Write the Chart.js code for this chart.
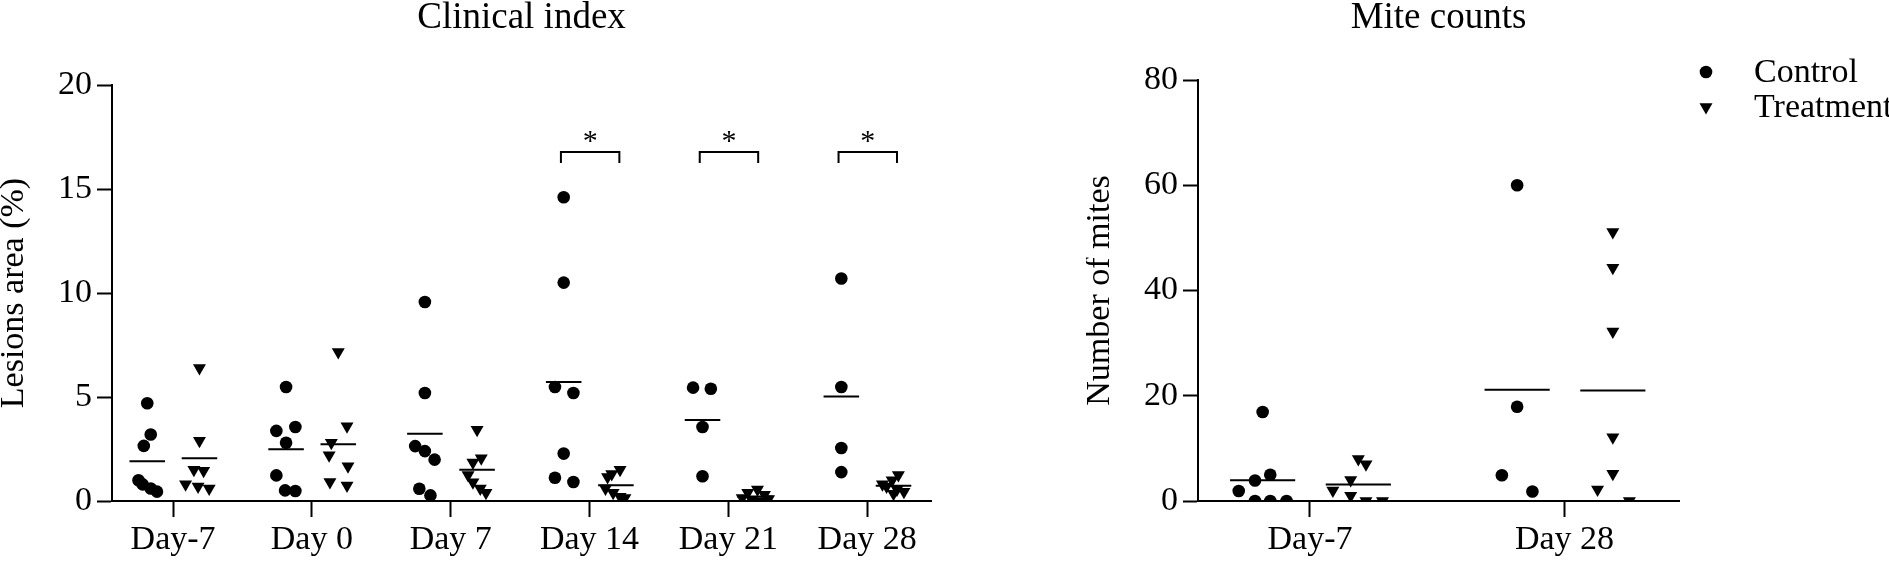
<!DOCTYPE html>
<html>
<head>
<meta charset="utf-8">
<title>Clinical index and mite counts</title>
<script src="https://cdn.jsdelivr.net/npm/chart.js@4.4.0/dist/chart.umd.min.js"></script>
<style>
  html, body { margin: 0; padding: 0; background: #fff; }
  #wrap { position: relative; width: 1889px; height: 562px; overflow: hidden; }
  .panel { position: absolute; top: 0; height: 562px; }
  #left { left: 0; width: 960px; }
  #right { left: 1086px; width: 803px; }
</style>
</head>
<body>
<div id="wrap">
  <div class="panel" id="left"><canvas id="clinicalChart" width="960" height="562"></canvas></div>
  <div class="panel" id="right"><canvas id="mitesChart" width="803" height="562"></canvas></div>
</div>
<script>
  // ---- data ----
  const clinicalDays = ['Day-7', 'Day 0', 'Day 7', 'Day 14', 'Day 21', 'Day 28'];
  const clinicalTicks = [0, 5, 10, 15, 20];
  const clinicalSignificant = ['Day 14', 'Day 21', 'Day 28'];

  const clinicalControl = [
    [4.7, 3.2, 2.65, 1.0, 0.8, 0.6, 0.45],
    [5.48, 3.37, 3.56, 2.8, 1.23, 0.51, 0.48],
    [9.57, 5.19, 2.64, 2.4, 1.99, 0.59, 0.27],
    [14.6, 10.5, 5.48, 5.19, 2.28, 1.12, 0.91],
    [5.45, 5.4, 3.56, 1.19],
    [10.7, 5.48, 2.55, 1.39]
  ];
  const clinicalTreatment = [
    [6.4, 2.9, 1.5, 1.45, 0.8, 0.7, 0.6],
    [7.16, 3.59, 2.8, 2.2, 1.67, 0.91, 0.75],
    [3.43, 2.05, 1.85, 1.25, 0.9, 0.6, 0.4],
    [1.5, 1.3, 1.15, 0.6, 0.4, 0.2, 0.15],
    [0.55, 0.4, 0.3, 0.15, 0.1, 0.05, 0.0],
    [1.25, 1.0, 0.8, 0.7, 0.55, 0.45, 0.35]
  ];
  // horizontal scatter of the dots inside each column (category units)
  const clinicalControlJitter = [
    [0, 0.025, -0.025, -0.063, -0.033, 0.025, 0.07],
    [0, -0.07, 0.067, 0, -0.07, -0.007, 0.067],
    [0, 0, -0.07, 0, 0.07, -0.04, 0.04],
    [0, 0, -0.063, 0.07, 0, -0.063, 0.07],
    [-0.068, 0.06, 0, 0],
    [0, 0, 0, 0]
  ];
  const clinicalTreatmentJitter = [
    [0, 0, -0.04, 0.03, -0.1, -0.01, 0.07],
    [0, 0.063, -0.05, -0.066, 0.07, -0.06, 0.063],
    [0, 0.03, -0.03, -0.065, -0.03, 0.023, 0.064],
    [0.03, -0.03, -0.06, -0.075, -0.02, 0.03, 0.065],
    [0.02, -0.05, 0.07, -0.09, 0.1, -0.02, 0.04],
    [0.035, -0.01, -0.08, -0.05, 0.025, 0.075, 0.0]
  ];

  const mitesDays = ['Day-7', 'Day 28'];
  const mitesTicks = [0, 20, 40, 60, 80];
  const mitesControl = [
    [16.9, 5.0, 3.9, 1.9, 0, 0, 0],
    [60, 17.9, 4.9, 1.8]
  ];
  const mitesTreatment = [
    [8, 7, 4, 2, 1, 0, 0],
    [51.1, 44.3, 32.2, 12.1, 5.2, 2.2, 0]
  ];
  const mitesControlJitter = [
    [0, 0.03, -0.03, -0.094, -0.03, 0.03, 0.094],
    [0, 0, -0.06, 0.06]
  ];
  const mitesTreatmentJitter = [
    [0, 0.03, -0.03, -0.1, -0.03, 0.03, 0.095],
    [0, 0, 0, 0, 0, -0.06, 0.065]
  ];

  // ---- layout / style ----
  const CONTROL_OFFSET = -0.186;
  const TREAT_OFFSET = 0.19;
  const MEAN_HALF = 0.128;
  const FONT = '"Liberation Serif", "Times New Roman", serif';

  Chart.defaults.font.family = FONT;
  Chart.defaults.color = '#000';

  function scatterPoints(groups, jitter, offset) {
    const pts = [];
    groups.forEach((vals, i) => {
      vals.forEach((v, j) => pts.push({ x: i + 1 + offset + jitter[i][j], y: v }));
    });
    return pts;
  }

  function meanPoints(groups, offset) {
    const pts = [];
    groups.forEach((vals, i) => {
      const m = vals.reduce((s, v) => s + v, 0) / vals.length;
      const c = i + 1 + offset;
      pts.push({ x: c - MEAN_HALF, y: m }, { x: c + MEAN_HALF, y: m }, { x: c, y: null });
    });
    return pts;
  }

  function buildDatasets(control, controlJitter, treatment, treatmentJitter) {
    return [
      {
        label: 'Control',
        data: scatterPoints(control, controlJitter, CONTROL_OFFSET),
        pointStyle: 'circle', pointRadius: 6.3, backgroundColor: '#000',
        borderWidth: 0, pointBorderWidth: 0
      },
      {
        label: 'Treatment',
        data: scatterPoints(treatment, treatmentJitter, TREAT_OFFSET),
        pointStyle: 'triangle', pointRadius: 7.5, rotation: 180, backgroundColor: '#000',
        borderWidth: 0, pointBorderWidth: 0
      },
      {
        label: '',
        type: 'line', showLine: true, spanGaps: false,
        data: meanPoints(control, CONTROL_OFFSET),
        borderColor: '#000', borderWidth: 2, pointRadius: 0, borderCapStyle: 'butt'
      },
      {
        label: '',
        type: 'line', showLine: true, spanGaps: false,
        data: meanPoints(treatment, TREAT_OFFSET),
        borderColor: '#000', borderWidth: 2, pointRadius: 0, borderCapStyle: 'butt'
      }
    ];
  }

  const panelTitle = {
    id: 'panelTitle',
    afterDraw(chart, args, opts) {
      const { ctx, chartArea } = chart;
      ctx.save();
      ctx.font = `37px ${FONT}`;
      ctx.fillStyle = '#000';
      ctx.textAlign = 'center';
      ctx.textBaseline = 'alphabetic';
      ctx.fillText(opts.text, (chartArea.left + chartArea.right) / 2, opts.baseline);
      ctx.restore();
    }
  };

  const sigBrackets = {
    id: 'sigBrackets',
    afterDatasetsDraw(chart, args, opts) {
      if (!opts.days) return;
      const { ctx } = chart;
      const x = chart.scales.x, y = chart.scales.y;
      ctx.save();
      ctx.strokeStyle = '#000';
      ctx.lineWidth = 2;
      ctx.fillStyle = '#000';
      ctx.font = `30px ${FONT}`;
      ctx.textAlign = 'center';
      ctx.textBaseline = 'alphabetic';
      opts.days.forEach(day => {
        const c = opts.categories.indexOf(day) + 1;
        const x1 = x.getPixelForValue(c + CONTROL_OFFSET - 0.02);
        const x2 = x.getPixelForValue(c + TREAT_OFFSET + 0.025);
        const yTop = y.getPixelForValue(opts.top);
        const yFoot = y.getPixelForValue(opts.foot);
        ctx.beginPath();
        ctx.moveTo(x1, yFoot);
        ctx.lineTo(x1, yTop);
        ctx.lineTo(x2, yTop);
        ctx.lineTo(x2, yFoot);
        ctx.stroke();
        ctx.fillText('*', (x1 + x2) / 2, yTop - 2);
      });
      ctx.restore();
    }
  };

  const sideLegend = {
    id: 'sideLegend',
    afterDraw(chart, args, opts) {
      if (!opts.show) return;
      const { ctx, chartArea } = chart;
      ctx.save();
      ctx.fillStyle = '#000';
      ctx.font = `34px ${FONT}`;
      ctx.textAlign = 'left';
      ctx.textBaseline = 'alphabetic';
      chart.data.datasets.filter(d => d.label).forEach((ds, i) => {
        const px = chartArea.right + 27;
        const py = opts.top + i * opts.gap;
        Chart.helpers.drawPoint(ctx, {
          pointStyle: ds.pointStyle, radius: ds.pointRadius,
          rotation: ds.rotation || 0, borderWidth: 0
        }, px, py);
        ctx.fillText(ds.label, chartArea.right + 75, py + 10);
      });
      ctx.restore();
    }
  };

  function axisOptions(cats, ticks, yTitle, xMax) {
    const tickFont = { family: FONT, size: 34 };
    return {
      x: {
        type: 'linear', min: 0.56, max: xMax,
        ticks: {
          stepSize: 1, includeBounds: false, autoSkip: false, maxRotation: 0,
          padding: 3, font: tickFont, color: '#000',
          callback: v => (Number.isInteger(v) && cats[v - 1]) ? cats[v - 1] : ''
        },
        grid: { drawOnChartArea: false, tickLength: 16, tickWidth: 2, tickColor: '#000' },
        border: { color: '#000', width: 2 },
        afterFit: s => { s.height = 61; }
      },
      y: {
        min: ticks[0], max: ticks[ticks.length - 1],
        ticks: { stepSize: ticks[1] - ticks[0], padding: 5, font: tickFont, color: '#000' },
        grid: { drawOnChartArea: false, tickLength: 15, tickWidth: 2, tickColor: '#000' },
        border: { color: '#000', width: 2 },
        title: {
          display: true, text: yTitle, color: '#000', padding: 0,
          font: { family: FONT, size: 34, lineHeight: 0.85 }
        },
        afterFit: s => { s.width = 112; }
      }
    };
  }

  new Chart(document.getElementById('clinicalChart'), {
    type: 'scatter',
    data: { datasets: buildDatasets(clinicalControl, clinicalControlJitter, clinicalTreatment, clinicalTreatmentJitter) },
    options: {
      responsive: false, animation: false, events: [], devicePixelRatio: 1,
      layout: { padding: { top: 85, right: 29, bottom: 0, left: 0 } },
      scales: axisOptions(clinicalDays, clinicalTicks, 'Lesions area (%)', 6.46),
      plugins: {
        legend: { display: false }, tooltip: { enabled: false },
        panelTitle: { text: 'Clinical index', baseline: 28 },
        sigBrackets: { days: clinicalSignificant, categories: clinicalDays, top: 16.78, foot: 16.25 },
        sideLegend: { show: false }
      }
    },
    plugins: [panelTitle, sigBrackets, sideLegend]
  });

  new Chart(document.getElementById('mitesChart'), {
    type: 'scatter',
    data: { datasets: buildDatasets(mitesControl, mitesControlJitter, mitesTreatment, mitesTreatmentJitter) },
    options: {
      responsive: false, animation: false, events: [], devicePixelRatio: 1,
      layout: { padding: { top: 80, right: 210, bottom: 0, left: 0 } },
      scales: axisOptions(mitesDays, mitesTicks, 'Number of mites', 2.45),
      plugins: {
        legend: { display: false }, tooltip: { enabled: false },
        panelTitle: { text: 'Mite counts', baseline: 28 },
        sigBrackets: {},
        sideLegend: { show: true, top: 72, gap: 35 }
      }
    },
    plugins: [panelTitle, sigBrackets, sideLegend]
  });
</script>
</body>
</html>
